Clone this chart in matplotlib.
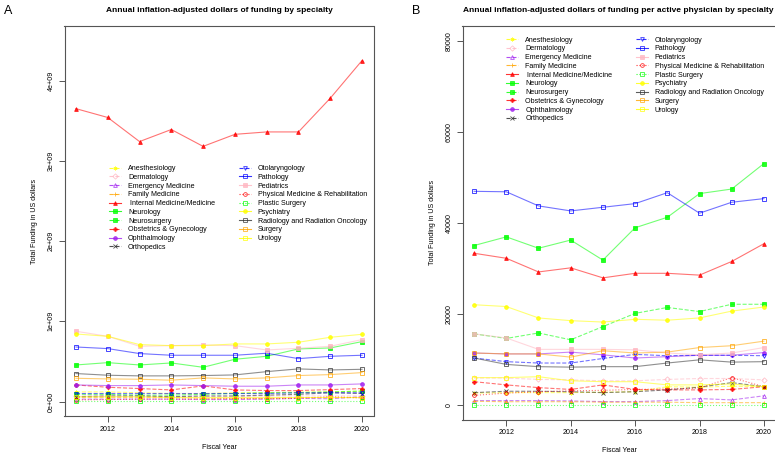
import matplotlib
matplotlib.use('Agg')
import matplotlib.pyplot as plt

plt.rcParams['font.family'] = ['Liberation Sans', 'DejaVu Sans']

years = list(range(2011, 2021))

specialties = ['Anesthesiology', 'Dermatology', 'Emergency Medicine', 'Family Medicine',
               ' Internal Medicine/Medicine', 'Neurology', 'Neurosurgery',
               'Obstetrics & Gynecology', 'Ophthalmology', 'Orthopedics',
               'Otolaryngology', 'Pathology', 'Pediatrics',
               'Physical Medicine & Rehabilitation', 'Plastic Surgery', 'Psychiatry',
               'Radiology and Radiation Oncology', 'Surgery', 'Urology']

# panel A: total funding, billions of US dollars
tot_anes = [0.12, 0.12, 0.11, 0.10, 0.10, 0.11, 0.11, 0.12, 0.12, 0.13]
tot_derm = [0.07, 0.07, 0.065, 0.06, 0.06, 0.06, 0.07, 0.07, 0.07, 0.07]
tot_emer = [0.03, 0.03, 0.03, 0.03, 0.025, 0.025, 0.03, 0.04, 0.035, 0.06]
tot_fam = [0.05, 0.05, 0.05, 0.05, 0.04, 0.04, 0.04, 0.05, 0.05, 0.05]
tot_int = [3.65, 3.54, 3.24, 3.39, 3.18, 3.33, 3.36, 3.36, 3.78, 4.25]
tot_neuro = [0.456, 0.485, 0.456, 0.481, 0.427, 0.527, 0.564, 0.656, 0.668, 0.747]
tot_nsurg = [0.09, 0.09, 0.08, 0.08, 0.09, 0.10, 0.11, 0.11, 0.12, 0.13]
tot_obgyn = [0.207, 0.178, 0.162, 0.145, 0.195, 0.145, 0.137, 0.137, 0.149, 0.162]
tot_ophth = [0.207, 0.199, 0.199, 0.207, 0.199, 0.191, 0.191, 0.207, 0.207, 0.220]
tot_ortho = [0.06, 0.07, 0.07, 0.06, 0.07, 0.07, 0.08, 0.09, 0.11, 0.10]
tot_oto = [0.10, 0.10, 0.10, 0.10, 0.10, 0.10, 0.10, 0.11, 0.11, 0.11]
tot_path = [0.680, 0.660, 0.598, 0.577, 0.577, 0.577, 0.602, 0.535, 0.564, 0.577]
tot_peds = [0.876, 0.813, 0.689, 0.697, 0.705, 0.697, 0.643, 0.664, 0.689, 0.772]
tot_pmr = [0.02, 0.025, 0.03, 0.03, 0.03, 0.035, 0.035, 0.04, 0.06, 0.045]
tot_plast = [0.005, 0.005, 0.005, 0.005, 0.005, 0.005, 0.005, 0.005, 0.005, 0.005]
tot_psych = [0.842, 0.813, 0.710, 0.697, 0.697, 0.718, 0.718, 0.739, 0.801, 0.838]
tot_rad = [0.349, 0.328, 0.320, 0.320, 0.324, 0.332, 0.373, 0.407, 0.394, 0.402]
tot_surg = [0.290, 0.282, 0.278, 0.266, 0.295, 0.282, 0.295, 0.324, 0.336, 0.361]
tot_uro = [0.06, 0.06, 0.06, 0.05, 0.05, 0.05, 0.05, 0.05, 0.05, 0.05]

# panel B: funding per active physician, US dollars
per_anes = [2600, 2700, 2700, 2700, 2800, 2900, 4000, 3900, 4100, 4000]
per_derm = [5900, 5900, 5600, 5500, 5300, 5300, 5600, 5800, 5800, 5500]
per_emer = [950, 950, 950, 880, 730, 730, 950, 1400, 1100, 2000]
per_fam = [800, 700, 700, 700, 600, 600, 600, 500, 500, 500]
per_int = [33300, 32200, 29200, 30100, 27900, 28900, 28900, 28500, 31500, 35400]
per_neuro = [35000, 36900, 34400, 36200, 31800, 38900, 41200, 46400, 47400, 53000]
per_nsurg = [15600, 14600, 15800, 14300, 17200, 20100, 21400, 20500, 22100, 22100]
per_obgyn = [5100, 4400, 3800, 3400, 4400, 3400, 3300, 3300, 3400, 4000]
per_ophth = [11400, 11200, 11200, 11600, 11000, 10300, 10600, 10900, 10900, 11500]
per_ortho = [2700, 3000, 3000, 2900, 2700, 2900, 3300, 3900, 4900, 4000]
per_oto = [10300, 9500, 9200, 9200, 10200, 11100, 10800, 10900, 10900, 10800]
per_path = [46900, 46800, 43700, 42600, 43400, 44200, 46600, 42100, 44500, 45300]
per_peds = [15600, 14700, 12200, 12200, 12200, 12100, 11400, 11000, 11400, 12600]
per_pmr = [2100, 2600, 2900, 3100, 3200, 3400, 3500, 3700, 6000, 4000]
per_plast = [50, 50, 50, 50, 50, 50, 50, 50, 50, 50]
per_psych = [22000, 21600, 19100, 18500, 18200, 18800, 18600, 19100, 20600, 21500]
per_rad = [10300, 8900, 8400, 8300, 8400, 8400, 9200, 9900, 9400, 9500]
per_surg = [11400, 11200, 11200, 10500, 11900, 11400, 11600, 12600, 13000, 14000]
per_uro = [6000, 6000, 6200, 5300, 5100, 5100, 4400, 4400, 4600, 4000]

totals = [tot_anes, tot_derm, tot_emer, tot_fam, tot_int, tot_neuro, tot_nsurg, tot_obgyn,
          tot_ophth, tot_ortho, tot_oto, tot_path, tot_peds, tot_pmr, tot_plast, tot_psych,
          tot_rad, tot_surg, tot_uro]
per_phys = [per_anes, per_derm, per_emer, per_fam, per_int, per_neuro, per_nsurg, per_obgyn,
            per_ophth, per_ortho, per_oto, per_path, per_peds, per_pmr, per_plast, per_psych,
            per_rad, per_surg, per_uro]

# line / marker style per specialty (colour, linestyle, marker, filled)
colors = ['#FFFF00', '#FFB6C1', '#A020F0', '#FFA500', '#FF0000', '#00FF00', '#00FF00',
          '#FF0000', '#A020F0', '#222222', '#0000FF', '#0000FF', '#FFB6C1', '#FF0000',
          '#00FF00', '#FFFF00', '#333333', '#FFA500', '#FFFF00']
styles = ['--', '--', '--', '--', '-', '-', '--', '--', '-', '--',
          '--', '-', '-', ':', ':', '-', '-', '-', '-']
markers = [(6, 2, 0), 'D', '^', '+', '^', 's', 's', 'P', 'o', 'x',
           'v', 's', 's', 'o', 's', 'o', 's', 's', 's']
filled = [False, False, False, False, True, True, True, True, True, False,
          False, False, True, False, False, True, False, False, False]

FS = 5.1


def draw_panel(ax, data, scale):
    handles = []
    for i, name in enumerate(specialties):
        vals = [v * scale for v in data[i]]
        mfc = colors[i] if filled[i] else 'none'
        ax.plot(years, vals, linestyle=styles[i], color=colors[i], lw=0.8, alpha=0.55)
        ax.plot(years, vals, linestyle='none', marker=markers[i], ms=2.7,
                mec=colors[i], mfc=mfc, mew=0.6, alpha=0.85)
        h, = ax.plot([], [], linestyle=styles[i], color=colors[i], lw=0.8, alpha=0.8,
                     marker=markers[i], ms=2.7, mec=colors[i], mfc=mfc, mew=0.6)
        handles.append(h)
    ax.set_xlim(2010.64, 2020.36)
    ax.set_xticks([2012, 2014, 2016, 2018, 2020])
    for sp in ax.spines.values():
        sp.set_color('#555555')
        sp.set_linewidth(0.8)
    ax.tick_params(direction='out', length=4, width=0.7, color='#555555',
                   labelsize=FS, pad=3)
    ax.set_xlabel('Fiscal Year', fontsize=FS, labelpad=8)
    ax.set_ylabel('Total Funding in US dollars', fontsize=FS, labelpad=7)
    return handles


fig = plt.figure(figsize=(7.75, 4.53), dpi=100)
W, H = 775.0, 453.0

axA = fig.add_axes([64.5 / W, 1 - 416 / H, 309 / W, 390 / H])
hA = draw_panel(axA, totals, 1e9)
axA.set_ylim(-0.18e9, 4.68e9)
axA.set_yticks([0, 1e9, 2e9, 3e9, 4e9])
axA.set_yticklabels(['0e+00', '1e+09', '2e+09', '3e+09', '4e+09'], rotation=90, va='center')

axB = fig.add_axes([462.5 / W, 1 - 419.5 / H, 313 / W, 393.5 / H])
hB = draw_panel(axB, per_phys, 1)
axB.set_ylim(-3200, 83200)
axB.set_yticks([0, 20000, 40000, 60000, 80000])
axB.set_yticklabels(['0', '20000', '40000', '60000', '80000'], rotation=90, va='center')

for ax, h, x0, y0 in [(axA, hA, 109, 165), (axB, hB, 506, 36.5)]:
    ax.legend(h, specialties, ncol=2, frameon=False, fontsize=FS,
              loc='upper left', bbox_to_anchor=(x0 / W, 1 - y0 / H),
              bbox_transform=fig.transFigure, borderpad=0, borderaxespad=0,
              handlelength=1.7, handletextpad=1.0, columnspacing=3.3,
              labelspacing=0.25)

fig.text(219 / W, 1 - 11 / H, 'Annual inflation-adjusted dollars of funding by specialty',
         ha='center', va='center', fontsize=6.0, fontweight='bold')
fig.text(618 / W, 1 - 11 / H,
         'Annual inflation-adjusted dollars of funding per active physician by specialty',
         ha='center', va='center', fontsize=6.0, fontweight='bold')
fig.text(4 / W, 1 - 11 / H, 'A', ha='left', va='center', fontsize=9)
fig.text(412 / W, 1 - 11 / H, 'B', ha='left', va='center', fontsize=9)

fig.savefig('out.png', dpi=100)
